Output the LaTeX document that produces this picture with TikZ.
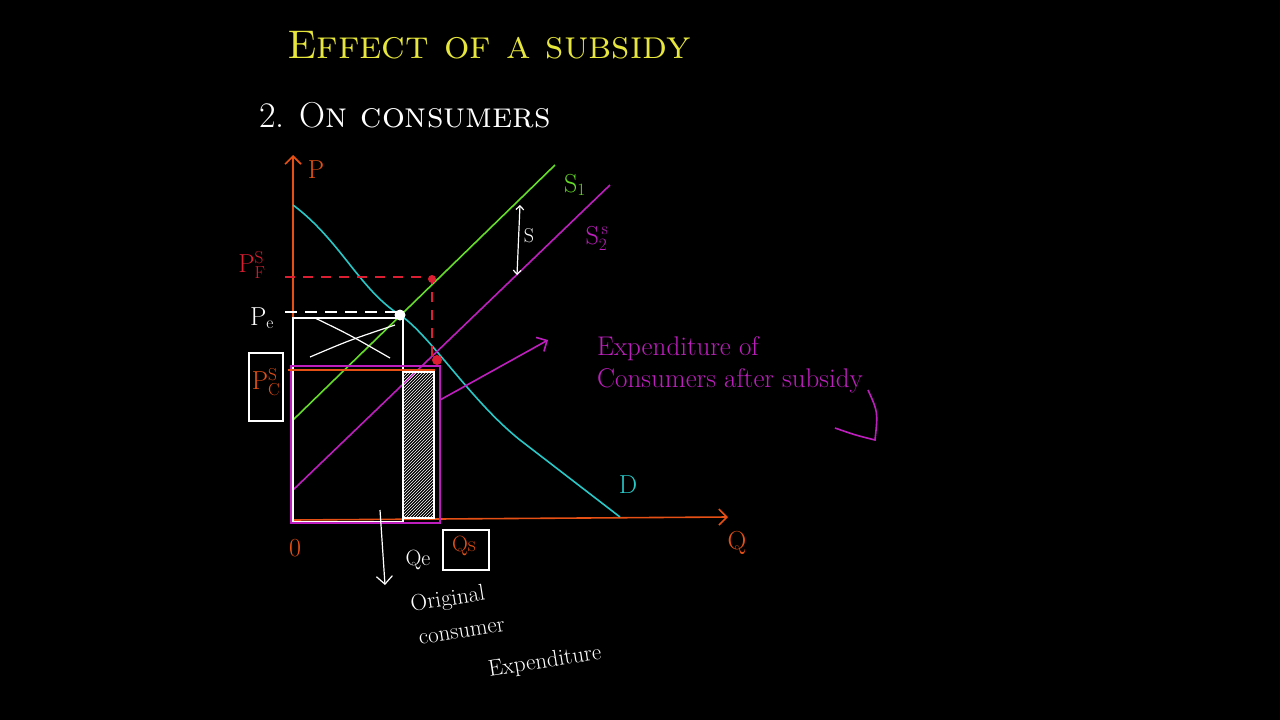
\documentclass[tikz,border=0pt]{standalone}
\usetikzlibrary{patterns,arrows.meta}
\definecolor{cy}{RGB}{40,200,200}
\definecolor{gr}{RGB}{100,220,40}
\definecolor{mg}{RGB}{190,30,190}
\definecolor{orn}{RGB}{230,80,20}
\definecolor{rd}{RGB}{220,30,50}
\definecolor{yl}{RGB}{230,230,60}
\begin{document}
\begin{tikzpicture}[x=1pt,y=-1pt,line width=1.6pt,
  lbl/.style={inner sep=0pt,font=\fontsize{26}{28}\selectfont},
  origtxt/.style={text=white,font=\fontsize{23}{25}\selectfont,rotate=9,inner sep=0pt}]
\fill[black] (0,0) rectangle (1280,720);
\useasboundingbox (0,0) rectangle (1280,720);
% titles
\node[lbl,text=yl] (title) at (489,45) {\fontsize{40}{42}\selectfont\textsc{Effect of a subsidy}};
\node[lbl,text=white] (sub) at (405,115) {\fontsize{36}{38}\selectfont 2. O\textsc{n consumers}};
% axes
\coordinate (O) at (293,520);
\coordinate (Ptop) at (293,155);
\coordinate (Qend) at (728,517);
\draw[orn,-{Straight Barb[length=8pt]}] (O) -- (Ptop);
\draw[orn,-{Straight Barb[length=8pt]}] (O) -- (Qend);
\node[lbl,text=orn] (P) at (316,170) {P};
\node[lbl,text=orn] (Q) at (737,543) {Q};
\node[lbl,text=orn] (zero) at (295,548) {0};
% curves
\draw[cy] (293,205) .. controls (340,240) and (360,290) .. (400,315) .. controls (430,335) and (470,400) .. (520,440) -- (620,517);
\draw[gr] (293,420) -- (555,165);
\draw[mg] (293,490) -- (610,185);
\node[lbl,text=gr] (S1) at (575,185) {S$_1$};
\node[lbl,text=mg] (S2) at (597,238) {S$_2^{\,\mathrm s}$};
\node[lbl,text=cy] (D) at (628,485) {D};
% S arrow
\coordinate (sa) at (520,205); \coordinate (sb) at (517,275);
\draw[white,line width=1.2pt,{Straight Barb}-{Straight Barb}] (sa) -- (sb);
\node[lbl,text=white,font=\fontsize{20}{22}\selectfont] (S) at (529,236) {S};
% rectangles
\draw[white] (293,318) rectangle (403,522);
\draw[white,line width=1.2pt] (315,318) .. controls (350,335) .. (390,358);
\draw[white,line width=1.2pt] (310,357) .. controls (350,340) .. (395,325);
\draw[white,pattern=north east lines,pattern color=white] (403,372) rectangle (434,518);
\draw[mg,line width=2pt] (291,366) rectangle (440,523);
\draw[orn] (288,370) -- (435,370);
% dashed
\draw[rd,dashed,dash pattern=on 10pt off 8pt] (285,277) -- (432,277) -- (432,360);
\draw[white,dashed,dash pattern=on 12pt off 8pt] (285,312) -- (400,312);
\node[fill=white,circle,inner sep=0pt,minimum size=11pt] (E) at (400,315) {};
\node[fill=rd,circle,inner sep=0pt,minimum size=8pt] (F) at (432,279) {};
\node[fill=rd,circle,inner sep=0pt,minimum size=10pt] (C) at (437,360) {};
% price labels
\node[lbl,text=rd] (PF) at (252,265) {P$_{\mathrm F}^{\mathrm S}$};
\node[lbl,text=white] (Pe) at (262,318) {P$_{\mathrm e}$};
\node[draw=white,line width=1.4pt,minimum width=34pt,minimum height=68pt,inner sep=0pt] (PCbox) at (266,387) {};
\node[lbl,text=orn] (PC) at (266,382) {P$_{\mathrm C}^{\mathrm S}$};
% expenditure arrow
\coordinate (ea) at (440,400); \coordinate (eb) at (548,340);
\draw[mg,-{Straight Barb[length=8pt]}] (ea) -- (eb);
\node[text=mg,font=\fontsize{27}{32}\selectfont,align=left,inner sep=0pt] (exp) at (730,365) {Expenditure of\\Consumers after subsidy};
\draw[mg] (868,390) .. controls (878,412) .. (875,440) .. controls (855,435) .. (835,428);
% Qe, Qs
\coordinate (qa) at (380,510); \coordinate (qb) at (385,585);
\draw[white,line width=1.2pt,-{Straight Barb[length=8pt]}] (qa) -- (qb);
\node[lbl,text=white,font=\fontsize{22}{24}\selectfont] (Qe) at (418,560) {Qe};
\node[draw=white,line width=1.4pt,minimum width=46pt,minimum height=40pt,inner sep=0pt] (Qsbox) at (466,550) {};
\node[lbl,text=orn,font=\fontsize{22}{24}\selectfont] (Qs) at (464,546) {Qs};
\node[origtxt] (orig1) at (448,600) {Original};
\node[origtxt] (orig2) at (462,633) {consumer};
\node[origtxt] (orig3) at (545,662) {Expenditure};
\end{tikzpicture}
\end{document}
